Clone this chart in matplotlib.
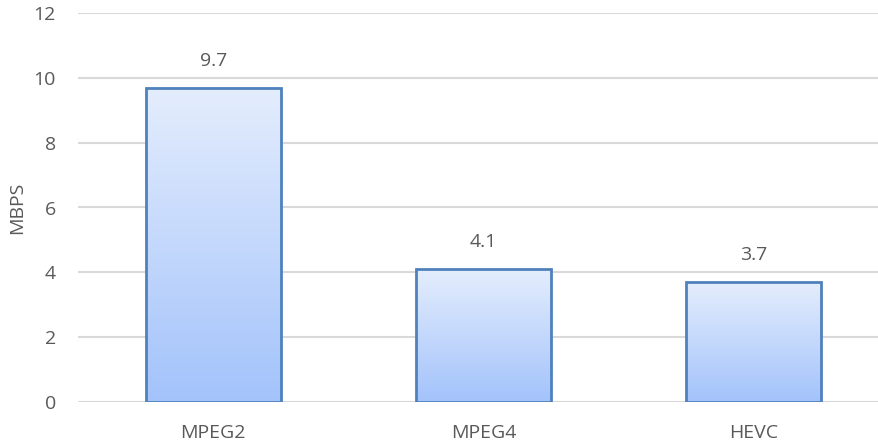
import matplotlib
matplotlib.use("Agg")
import matplotlib.pyplot as plt
import numpy as np
from matplotlib.colors import LinearSegmentedColormap

categories = ["MPEG2", "MPEG4", "HEVC"]
values = [9.7, 4.1, 3.7]
yticks = [0, 2, 4, 6, 8, 10, 12]
ylabel = "MBPS"

plt.rcParams['font.family'] = ['Open Sans', 'DejaVu Sans']
txt = "#595959"
fs = 14

fig = plt.figure(figsize=(8.79, 4.44), dpi=100)
W, H = 879, 444
ax = fig.add_axes([78 / W, (444 - 402) / H, (889 - 78) / W, 389 / H])

cmap = LinearSegmentedColormap.from_list("g", ["#A3C3FB", "#E4EDFD"])
grad = np.linspace(0, 1, 256).reshape(-1, 1)
bw = 0.5
x = np.arange(len(categories))
bars = ax.bar(x, values, width=bw, color="none", edgecolor="#4F81BD", linewidth=2, zorder=3)
for b in bars:
    x0, y0 = b.get_x(), b.get_y()
    w, h = b.get_width(), b.get_height()
    ax.imshow(grad, cmap=cmap, aspect="auto", origin="lower",
              extent=(x0, x0 + w, y0, y0 + h), zorder=2)
ax.set_xlim(-0.5, 2.5)
ax.set_ylim(0, 12)

for xi, v in zip(x, values):
    ax.text(xi, v + 0.55, f"{v}", ha="center", va="bottom", fontsize=fs, color=txt)

ax.set_yticks(yticks)
ax.set_yticklabels([str(t) for t in yticks], fontsize=fs, color=txt)
ax.set_xticks(x)
ax.set_xticklabels(categories, fontsize=fs, color=txt)
ax.tick_params(length=0, pad=16, axis="y")
ax.tick_params(length=0, pad=16, axis="x")
ax.grid(axis="y", color="#D9D9D9", linewidth=1.5, zorder=0)
ax.set_axisbelow(True)
for s in ax.spines.values():
    s.set_visible(False)
ax.set_ylabel(ylabel, fontsize=fs, color=txt, labelpad=5)

fig.savefig("out.png", dpi=100)
